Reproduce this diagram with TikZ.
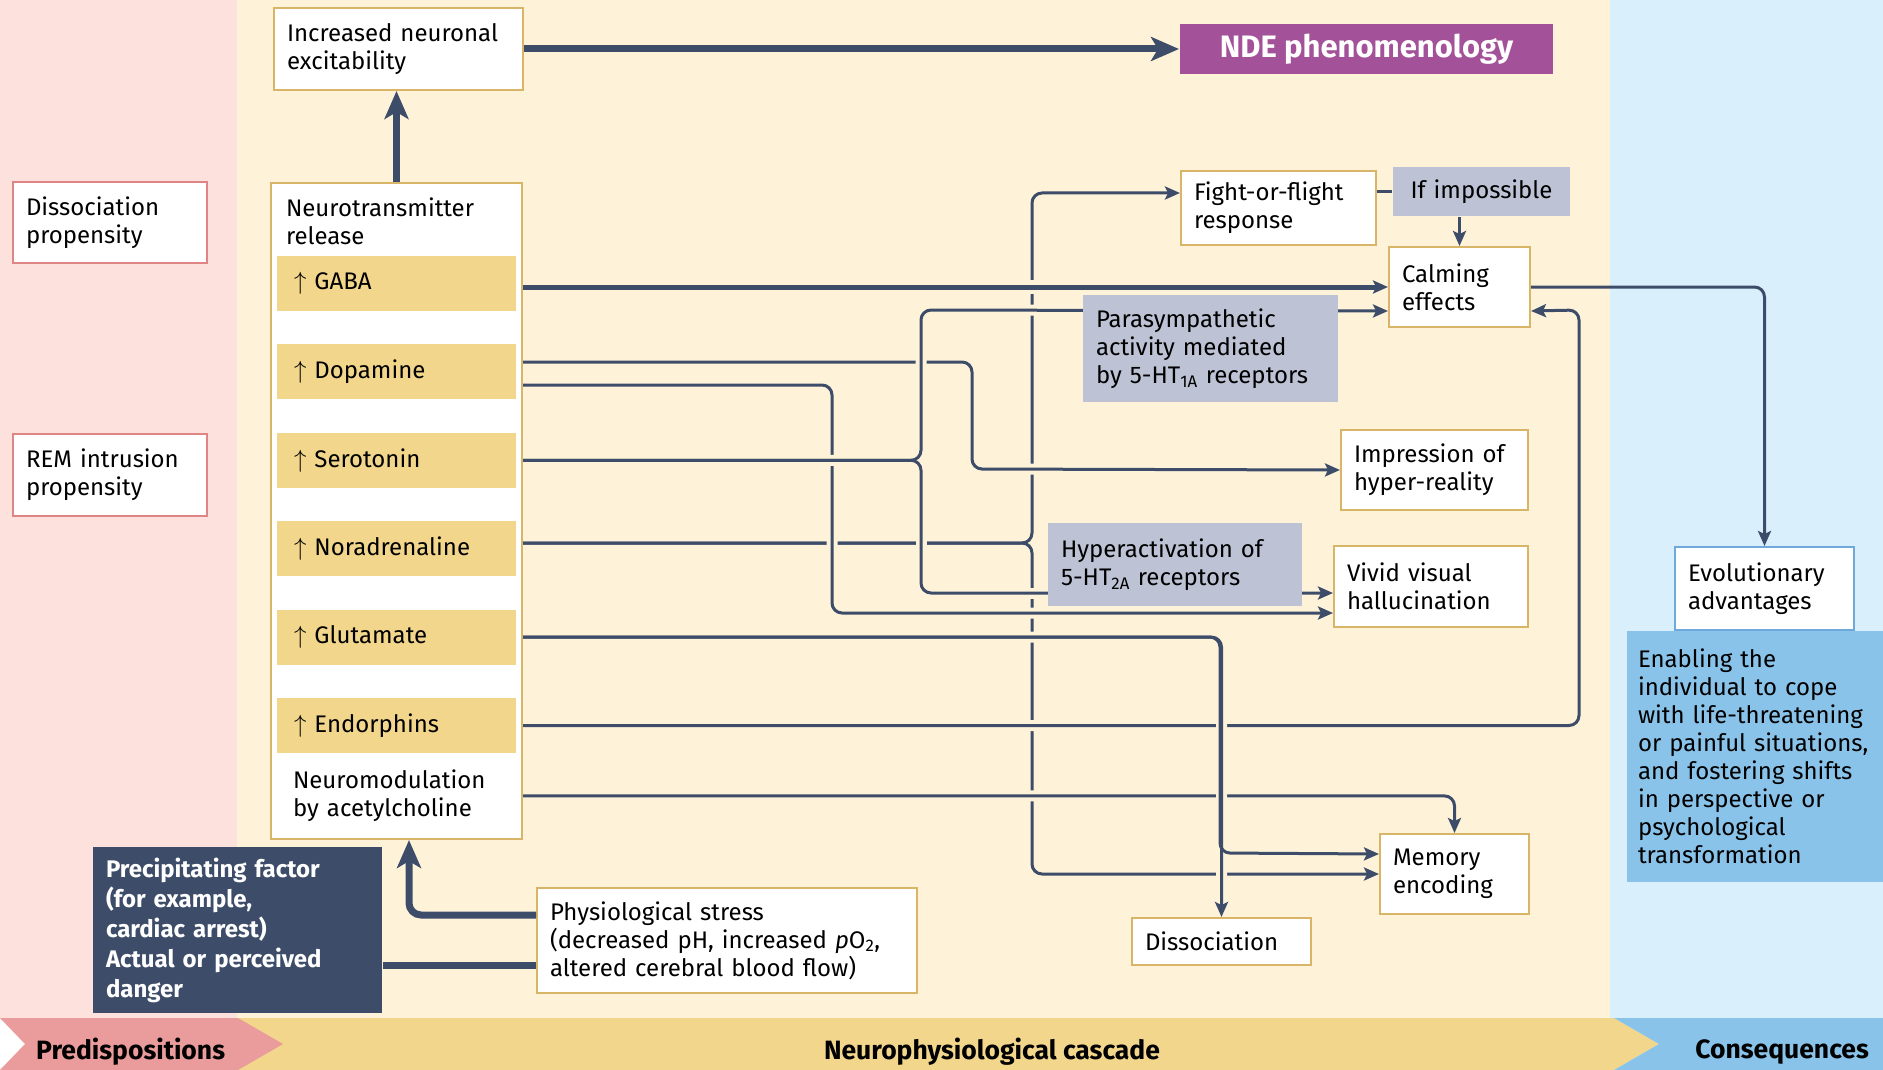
\documentclass[tikz,border=0pt]{standalone}
\usepackage{fontspec}
\setmainfont{Fira Sans}
\usepackage{xcolor}
\definecolor{predisp}{RGB}{253,225,221}
\definecolor{cascade}{RGB}{254,243,217}
\definecolor{conseq}{RGB}{218,239,252}
\definecolor{predispband}{RGB}{234,155,155}
\definecolor{cascadeband}{RGB}{242,214,139}
\definecolor{conseqband}{RGB}{137,195,233}
\definecolor{ink}{RGB}{61,77,105}
\definecolor{gold}{RGB}{217,181,103}
\definecolor{rose}{RGB}{224,133,133}
\definecolor{sky}{RGB}{111,169,219}
\definecolor{mist}{RGB}{189,195,213}
\definecolor{ndepurple}{RGB}{163,82,153}
\usepackage{tikz}
\usetikzlibrary{arrows.meta}
\usetikzlibrary{positioning}
\newcommand{\gapbar}{31.4pt}
\newcommand{\bodyfont}{\fontsize{24}{28}\selectfont}
\tikzset{
    common/.style={anchor=north west, inner xsep=0pt, align=left, line width=2pt},
    box/.style 2 args={common, minimum width=#1, minimum height=#2, text width=#1-26pt},
    cascadebox/.style 2 args={box={#1}{#2}, draw=gold, fill=white},
    predispbox/.style 2 args={box={#1}{#2}, draw=rose, fill=white},
    mistbox/.style 2 args={box={#1}{#2}, fill=mist},
    bar/.style={common, anchor=center, fill=cascadeband, minimum width=239pt, minimum height=55pt, text width=205pt},
    freetext/.style={common, inner sep=0pt, text width=220pt},
    bandlabel/.style={inner sep=0pt, font=\fontsize{26.5}{28}\selectfont\bfseries},
    wire/.style={ink, line width=3pt, rounded corners=10pt, ->},
    heavy/.style={ink, line width=7pt, rounded corners=12pt, -{Stealth[length=28pt, width=24pt, inset=7pt]}},
    halo/.style={draw=cascade, line width=11pt, -, shorten >=8pt, shorten <=8pt},
    bridged/.style={preaction={halo}},
    >={Stealth[length=15pt, width=13pt, inset=3pt]}
}

\begin{document}
\begin{tikzpicture}[x=1pt, y=-1pt, font=\bodyfont]
    \useasboundingbox (0,0) rectangle (1883,1070);

    % panels and bottom band
    \fill[predisp] (0,0) rectangle (237,1018);
    \fill[cascade] (237,0) rectangle (1610,1018);
    \fill[conseq] (1610,0) rectangle (1883,1018);
    \fill[cascadeband] (237,1018) -- (1614,1018) -- (1659,1044) -- (1614,1070) -- (237,1070) -- cycle;
    \fill[conseqband] (1614,1018) -- (1883,1018) -- (1883,1070) -- (1614,1070) -- (1659,1044) -- cycle;
    \fill[predispband] (0,1018) -- (238,1018) -- (283,1044) -- (238,1070) -- (0,1070) -- (25,1044) -- cycle;
    \node[bandlabel, anchor=west] (predlabel) at (36,1052) {Predispositions};
    \node[bandlabel] (casclabel) at (992,1052) {Neurophysiological cascade};
    \node[bandlabel, anchor=east] (conslabel) at (1869,1052) {Consequences};

    % predispositions
    \node[predispbox={194pt}{81pt}] (dissprop) at (12,181) {Dissociation\\propensity};
    \node[predispbox={194pt}{82pt}] (remprop) at (12,433) {REM intrusion\\propensity};

    % cascade
    \node[cascadebox={249pt}{82pt}] (excit) at (273,7) {Increased neuronal\\excitability};
    \node[common, fill=ndepurple, text=white, align=center, minimum width=373pt, minimum height=50pt,
          font=\fontsize{31}{32}\selectfont\bfseries] (nde) at (1179,23) {NDE phenomenology};
    \node[cascadebox={251pt}{656pt}] (nt) at (270,182) {};
    \node[freetext] (ntitle) at (285,197) {Neurotransmitter\\release};
    \node[bar] (gaba) at (396.5,283.5) {$\uparrow$ GABA};
    \node[bar, below=\gapbar of gaba] (dopa) {$\uparrow$ Dopamine};
    \node[bar, below=\gapbar of dopa] (sero) {$\uparrow$ Serotonin};
    \node[bar, below=\gapbar of sero] (nora) {$\uparrow$ Noradrenaline};
    \node[bar, below=\gapbar of nora] (glut) {$\uparrow$ Glutamate};
    \node[bar, below=\gapbar of glut] (endo) {$\uparrow$ Endorphins};
    \node[freetext] (ach) at (292,769) {Neuromodulation\\by acetylcholine};

    \node[box={289pt}{166pt}, fill=ink, text=white, font=\fontsize{24}{30}\selectfont\bfseries] (precip) at (92,846)
        {Precipitating factor\\(for example,\\cardiac arrest)\\Actual or perceived\\danger};
    \node[cascadebox={380pt}{105pt}] (physio) at (536,887)
        {Physiological stress\\(decreased pH, increased \textit{p}O\textsubscript{2},\\altered cerebral blood flow)};

    \node[cascadebox={195pt}{74pt}] (fight) at (1180,170) {Fight-or-flight\\response};
    \node[mistbox={177pt}{49pt}, align=center] (ifimp) at (1392,166) {If impossible};
    \node[cascadebox={141pt}{80pt}] (calm) at (1388,246) {Calming\\effects};
    \node[cascadebox={187pt}{80pt}] (impr) at (1340,429) {Impression of\\hyper-reality};
    \node[cascadebox={194pt}{81pt}] (vivid) at (1333,545) {Vivid visual\\hallucination};
    \node[cascadebox={149pt}{80pt}] (memory) at (1379,833) {Memory\\encoding};
    \node[cascadebox={179pt}{47pt}] (dissoc) at (1131,917) {Dissociation};

    % consequences
    \node[box={257pt}{251pt}, fill=conseqband, text width=235pt] (enable) at (1626,630)
        {Enabling the\\individual to cope\\with life-threatening\\or painful situations,\\and fostering shifts\\in perspective or\\psychological\\transformation};
    \node[box={179pt}{83pt}, draw=sky, fill=white] (evo) at (1674,546) {Evolutionary\\advantages};

    % neurotransmitter pathways
    \draw[wire] (nt.east |- 0,543) -| (1032,193) -- (fight.west |- 0,193);
    \draw[wire] (nt.east |- 0,543) -| (memory.west -| 1032,0) -- (memory.west);
    \draw[wire, bridged] (nt.east |- endo) -| (1579,310) -- ([yshift=-24pt]calm.east);
    \draw[wire, bridged] (nt.east |- ach) -| (memory.north);
    \draw[wire, bridged] (nt.east |- glut) -| (dissoc.north);
    \draw[wire] (nt.east |- glut) -| (1220,853) -- ([yshift=20pt]memory.west);
    \draw[wire, bridged] (nt.east |- 0,362) -| (972,469) -- (impr.west);
    \draw[wire, bridged] (nt.east |- 0,385) -| (832,613) -- (vivid.west |- 0,613);
    \foreach \look in {halo, wire} {
        \draw[\look] (nt.east |- sero) -| (921,310) -- ([yshift=-24pt]calm.west);
        \draw[\look] (nt.east |- sero) -| (921,593) -- (vivid.west |- 0,593);
    }
    \draw[wire, line width=5pt, preaction={halo, line width=14pt}] (nt.east |- calm.west) -- (calm.west);

    \draw[ink, line width=3pt] (ifimp.west) -- (ifimp.west -| fight.east);
    \draw[wire] (calm.north |- ifimp.south) -- (calm.north);
    \draw[wire] (calm.east) -| (evo.north);

    \draw[heavy] (excit) -- (nde);
    \draw[heavy] (nt.north) -- (nt.north |- excit.south);
    \draw[heavy] (physio.west |- 0,915) -| ([xshift=12.5pt]nt.south);
    \draw[ink, line width=7pt] (precip.east |- 0,965) -- (physio.west |- 0,965);

    % receptor boxes over the wires
    \node[mistbox={255pt}{107pt}] (para) at (1082,294)
        {Parasympathetic\\activity mediated\\by 5-HT\textsubscript{1A} receptors};
    \node[mistbox={254pt}{83pt}] (hyper) at (1047,522)
        {Hyperactivation of\\5-HT\textsubscript{2A} receptors};
\end{tikzpicture}
\end{document}
